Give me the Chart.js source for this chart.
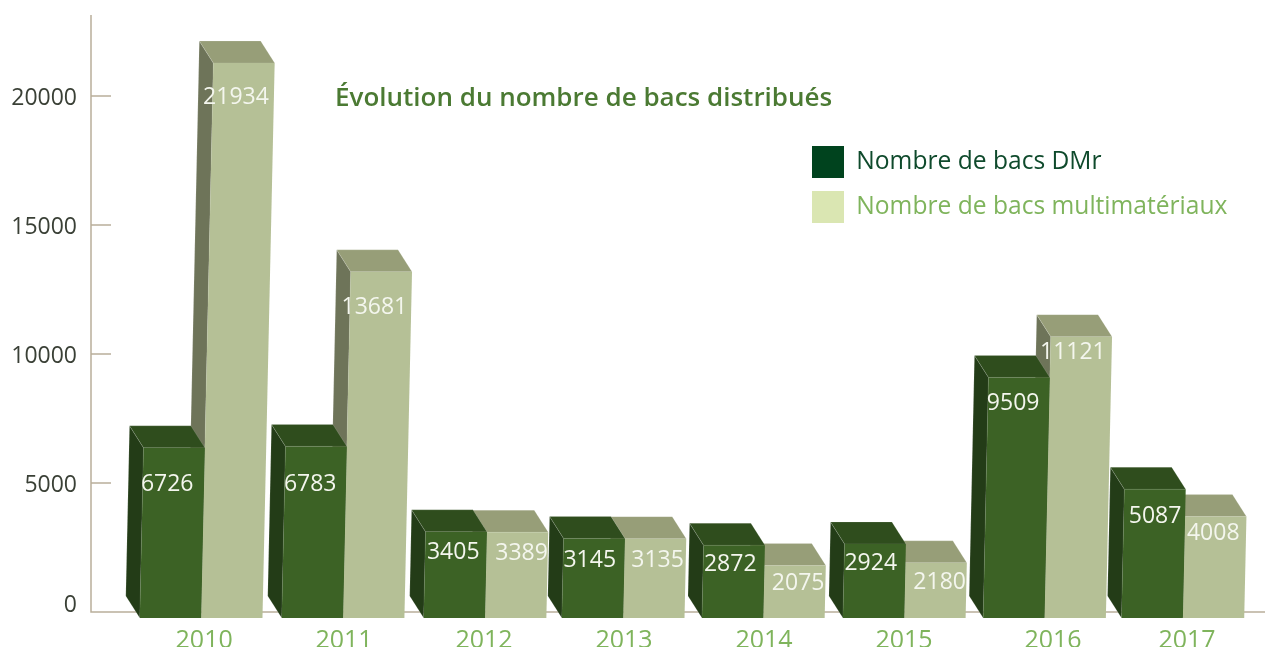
<!DOCTYPE html>
<html lang="fr">
<head>
<meta charset="utf-8">
<title>Évolution du nombre de bacs distribués</title>
<script src="https://cdn.jsdelivr.net/npm/chart.js@4"></script>
<style>
html,body{margin:0;padding:0;background:#fff;overflow:hidden}
#w{position:relative;width:1265px;height:647px}
</style>
</head>
<body>
<div id="w"><canvas id="c" width="1265" height="647"></canvas></div>
<script>
const categories = ['2010','2011','2012','2013','2014','2015','2016','2017'];
const bacsDMr = [6726,6783,3405,3145,2872,2924,9509,5087];
const bacsMulti = [21934,13681,3389,3135,2075,2180,11121,4008];
const yTicks = [0,5000,10000,15000,20000];
const titleText = 'Évolution du nombre de bacs distribués';
const seriesNames = ['Nombre de bacs DMr','Nombre de bacs multimatériaux'];

const FONT = '"Open Sans"';
const SHEAR = 0.022, DX = -14, DY = -22;
const groupNudge = [0,1.7,3.4,1.3,1.2,1.9,1.9,0];
const yearLabelShift = [3,2.7,2.4,2.2,1.9,1.7,10.4,4.2];
const yLabelShift = [-6.5,2.5,2.5,2.5,2.5];
const valueLabelNudge = [
  [[-7,37],[-6,38],[-3,21],[-4.5,22],[-4,19],[-4.5,19],[-6,26],[0,27]],
  [[-8,34],[-7,36],[4,21],[2,22],[3,18],[3.5,20],[-8.5,16],[-2.5,17]]
];
const skins = [
  {face:'#3c6225',top:'#2f4d1d',side:'#233c17',legendBox:'#00431e',legendText:'#0f4a2c'},
  {face:'#b5c096',top:'#979e78',side:'#6e7459',legendBox:'#dae6b2',legendText:'#7fb45c'}
];
const AXIS = '#b9af9a';

function poly(ctx, pts, fill){
  ctx.beginPath();
  pts.forEach((p,i)=> i?ctx.lineTo(p[0],p[1]):ctx.moveTo(p[0],p[1]));
  ctx.closePath();
  ctx.fillStyle = fill; ctx.fill();
  ctx.lineWidth = .6; ctx.strokeStyle = 'rgba(255,255,255,.22)'; ctx.stroke();
}
function noPad(s){ s.paddingTop=0; s.paddingBottom=0; s.paddingLeft=0; s.paddingRight=0; }
function shiftTicks(s, shifts){
  const proto = Object.getPrototypeOf(s);
  s.getPixelForTick = i => proto.getPixelForTick.call(s,i)+shifts[i];
}

const box3d = {
  id:'box3d',
  afterLayout(chart){
    const l = chart.legend, t = chart.titleBlock;
    t.left = 335; t.right = 900; t.top = 0; t.bottom = 15;
    const w = l.width, h = l.height;
    l.left = 799; l.top = 133; l.right = 799+w; l.bottom = 133+h;
    if (l.adjustHitBoxes) l.adjustHitBoxes();
  },
  afterDatasetsUpdate(chart){
    chart.data.datasets.forEach((d,di)=>{
      chart.getDatasetMeta(di).data.forEach((el,i)=>{ el.x += groupNudge[i]; });
    });
  },
  beforeDatasetsDraw(chart){
    const {ctx} = chart, y = chart.scales.y, x0 = 91, y0 = y.getPixelForValue(0);
    ctx.save();
    ctx.strokeStyle = AXIS; ctx.lineWidth = 1.5;
    ctx.beginPath();
    ctx.moveTo(x0,15); ctx.lineTo(x0,y0); ctx.lineTo(1265,y0);
    yTicks.slice(1).forEach(v=>{ const p = y.getPixelForValue(v); ctx.moveTo(x0,p); ctx.lineTo(x0+20,p); });
    ctx.stroke();
    ctx.restore();
  },
  beforeDatasetDraw(chart,args){
    const {ctx} = chart, s = skins[args.index];
    chart.getDatasetMeta(args.index).data.forEach(el=>{
      const L = el.x-el.width/2, R = el.x+el.width/2, b = el.base, t = el.y, sh = SHEAR*(b-t);
      poly(ctx,[[L+sh+DX,t+DY],[L+DX,b+DY],[L,b],[L+sh,t]],s.side);
      poly(ctx,[[L+sh+DX,t+DY],[R+sh+DX,t+DY],[R+sh,t],[L+sh,t]],s.top);
    });
    ctx.save();
    const b = chart.scales.yBars.getPixelForValue(0);
    ctx.transform(1,0,-SHEAR,1,SHEAR*b,0);
  },
  afterDatasetDraw(chart){ chart.ctx.restore(); },
  afterDatasetsDraw(chart){
    const {ctx} = chart;
    ctx.save();
    ctx.font = '400 23px '+FONT;
    ctx.textAlign='center'; ctx.textBaseline='middle'; ctx.fillStyle='#f4f6ee';
    chart.data.datasets.forEach((d,di)=>{
      chart.getDatasetMeta(di).data.forEach((el,i)=>{
        const n = valueLabelNudge[di][i], sh = SHEAR*(el.base-el.y);
        ctx.fillText(String(d.data[i]), el.x+sh+n[0], el.y+n[1]);
      });
    });
    ctx.restore();
  }
};

new Chart(document.getElementById('c'),{
  type:'bar',
  plugins:[box3d],
  data:{labels:categories,datasets:[
    {label:seriesNames[0],data:bacsDMr,backgroundColor:skins[0].face,borderWidth:0,yAxisID:'yBars',clip:false},
    {label:seriesNames[1],data:bacsMulti,backgroundColor:skins[1].face,borderWidth:0,yAxisID:'yBars',clip:false}
  ]},
  options:{
    responsive:false,animation:false,
    layout:{padding:{top:0,right:12,left:0,bottom:0}},
    categoryPercentage:.915,barPercentage:1,
    plugins:{
      tooltip:{enabled:false},
      title:{display:true,text:titleText,align:'start',color:'#4b7a33',
        font:{family:FONT,size:26,weight:'600',lineHeight:1.2},
        padding:{top:82.5,bottom:15-31.2-82.5}},
      legend:{display:true,position:'chartArea',align:'start',
        labels:{boxWidth:32,boxHeight:32,padding:13,font:{family:FONT,size:24.6,weight:'400'},
          generateLabels:()=>seriesNames.map((n,i)=>({text:n,fillStyle:skins[i].legendBox,strokeStyle:skins[i].legendBox,lineWidth:0,fontColor:skins[i].legendText,datasetIndex:i}))
        }}
    },
    scales:{
      x:{type:'category',
        grid:{display:false},border:{display:false},
        afterFit:s=>{s.height=29;noPad(s);},
        beforeUpdate:s=>shiftTicks(s,yearLabelShift),
        ticks:{color:'#7fb45c',padding:0,maxRotation:0,autoSkip:false,font:{family:FONT,size:25,weight:'400'}}
      },
      y:{type:'linear',position:'left',min:-233,max:23140,
        grid:{display:false},border:{display:false},
        afterFit:s=>{s.width=131;noPad(s);},
        beforeUpdate:s=>shiftTicks(s,yLabelShift),
        afterBuildTicks:s=>{s.ticks=yTicks.map(v=>({value:v}));},
        ticks:{color:'#3a4036',padding:46,callback:v=>String(v),
          font:{family:FONT,size:23,weight:'400'}}
      },
      yBars:{type:'linear',display:false,min:0,max:23834}
    }
  }
});
</script>
</body>
</html>
